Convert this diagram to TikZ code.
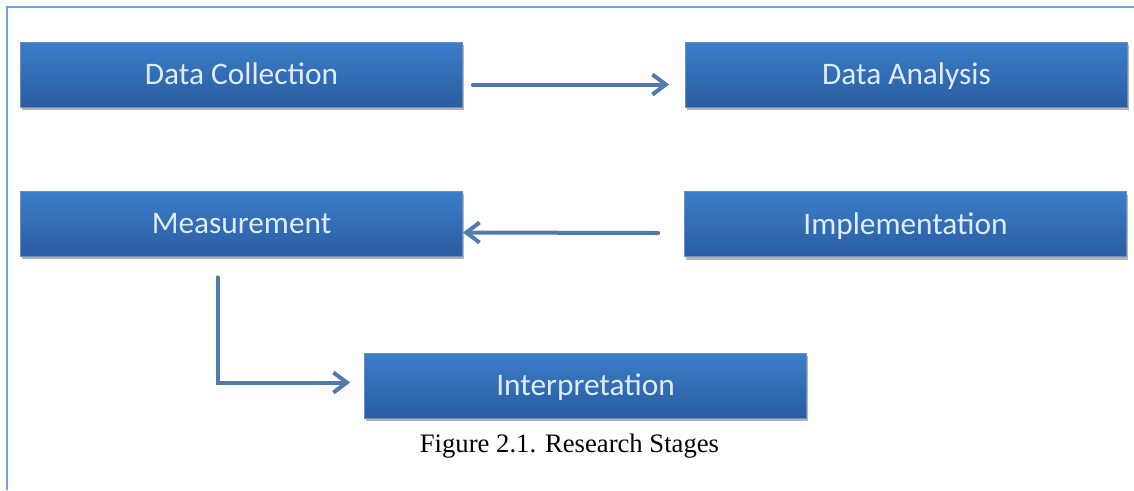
\documentclass[tikz,border=0pt]{standalone}
\usepackage{fontspec}
\setmainfont{Liberation Serif}
\newfontfamily\stagefont{Carlito}
\usetikzlibrary{arrows.meta,shadows}

\definecolor{stagetop}{RGB}{60,126,202}
\definecolor{stagebot}{RGB}{42,92,160}
\definecolor{stageedge}{RGB}{110,142,186}
\definecolor{stagetext}{RGB}{222,236,250}
\definecolor{flowblue}{RGB}{82,122,172}
\definecolor{frameblue}{RGB}{110,165,225}

\begin{document}
\begin{tikzpicture}[
    x=0.75pt, y=-0.75pt,
    stage/.style={rectangle, draw=stageedge, line width=0.6pt, top color=stagetop, bottom color=stagebot, minimum width=331.5pt, minimum height=48.75pt, inner sep=0pt, text height=15.1pt, text depth=0pt, font=\stagefont\fontsize{23.5}{28}\selectfont, text=stagetext, drop shadow={shadow xshift=0.8pt, shadow yshift=-2.5pt, opacity=0.6}},
    flow/.style={-{Straight Barb[length=10pt,width=15pt,line width=3pt]}, line width=3pt, line cap=round, flowblue},
    caption/.style={font=\fontsize{20}{24}\selectfont}
]
\useasboundingbox (0,0) rectangle (1134,490);

% Moldura
\draw[frameblue, line width=1.5pt] (7,490) -- (7,7) -- (1134,7);

% Etapas da pesquisa
\node[stage] (dc) at (241.5,74.5) {Data Collection};
\node[stage] (da) at (906.5,74.5) {Data Analysis};
\node[stage] (ms) at (241.5,223.5) {Measurement};
\node[stage] (im) at (905.5,224) {Implementation};
\node[stage] (ip) at (585.5,385.5) {Interpretation};

% Setas entre etapas
\draw[flow] ([shift={(10,10)}]dc.east) -- ([shift={(-16,10)}]da.west);
\draw[flow] ([shift={(-26,9)}]im.west) -- ([shift={(0,9)}]ms.east);
\draw[flow] ([shift={(-24,21)}]ms.south) |- ([shift={(-14,-3)}]ip.west);

% Legenda
\node[caption] (cap) at (569.5,446) {Figure 2.1. Research Stages};

\end{tikzpicture}
\end{document}
